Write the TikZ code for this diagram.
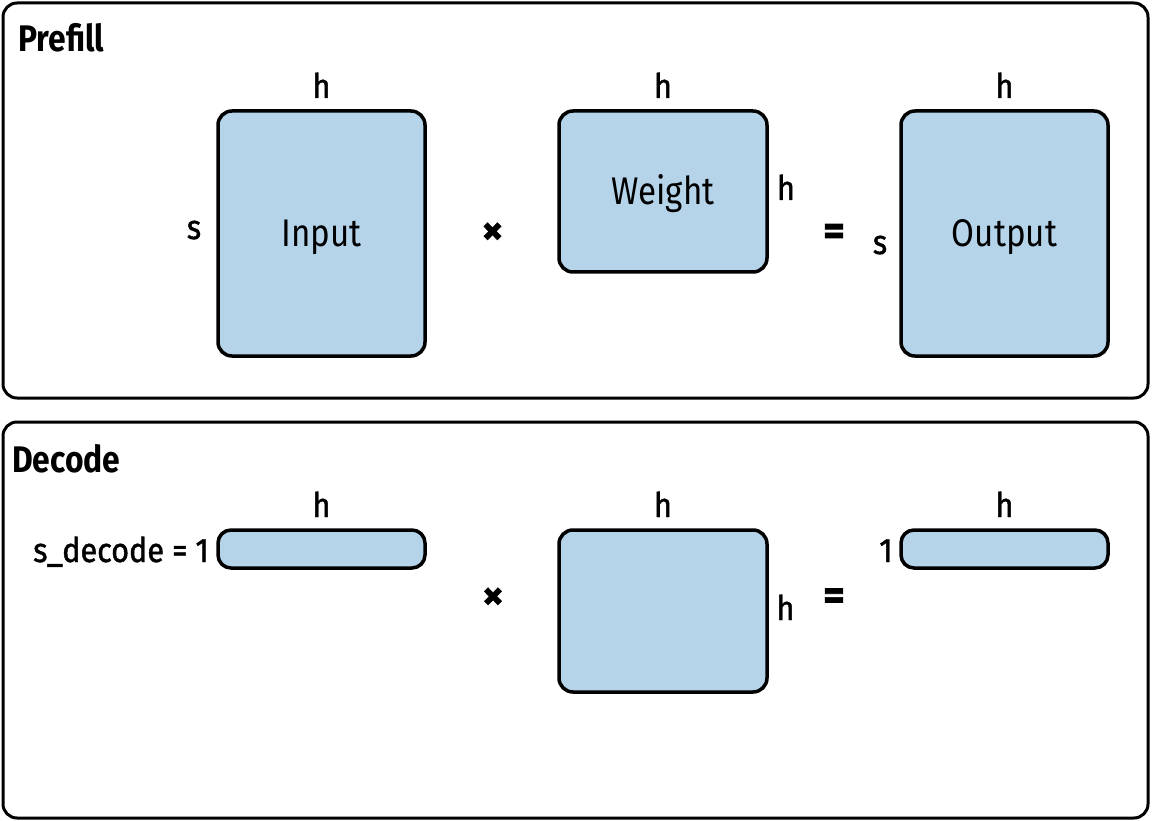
\documentclass[tikz,border=0pt]{standalone}
\usepackage{fontspec}
\setmainfont[FakeStretch=0.86]{Fira Sans}
\newfontfamily\labfont[FakeStretch=0.9,FakeBold=1.3]{Fira Sans}
\newfontfamily\opfont[FakeStretch=1.0,FakeBold=1.5]{Fira Sans}
\definecolor{matfill}{RGB}{181,212,234}
\begin{document}
\begin{tikzpicture}[x=1pt,y=-1pt,
  panel/.style={draw=black,line width=3pt,rounded corners=14pt,fill=white},
  mat/.style={draw=black,line width=3.5pt,rounded corners=14pt,fill=matfill},
  bar/.style={draw=black,line width=3.5pt,rounded corners=13pt,fill=matfill},
  lab/.style={inner sep=0pt,anchor=base,font=\labfont\fontsize{34}{40}\selectfont},
  op/.style={inner sep=0pt,font=\opfont\bfseries\fontsize{42}{46}\selectfont},
  big/.style={inner sep=0pt,anchor=base,font=\fontsize{38.5}{44}\selectfont},
  title/.style={inner sep=0pt,anchor=base west,font=\fontsize{37}{42}\selectfont\bfseries}]
\useasboundingbox (0,0) rectangle (1152,821);
% panels
\draw[panel] (3,3) rectangle (1148,398);
\draw[panel] (3,422) rectangle (1148,818);
\node[title] (tp) at (18,52) {Prefill};
\node[title] (td) at (12,472) {Decode};
% prefill
\draw[mat] (218,111) rectangle (425,356);
\node[big] (in) at (321.5,247) {Input};
\draw[mat] (559,111) rectangle (767,272);
\node[big] (w) at (663,205) {Weight};
\draw[mat] (901,111) rectangle (1108,356);
\node[big] (out) at (1004.5,247) {Output};
\node[lab] (h1) at (321.5,98) {h};
\node[lab] (h2) at (663,98) {h};
\node[lab] (h3) at (1004.5,98) {h};
\node[lab] (s1) at (194,239) {s};
\node[lab] (hw) at (786,200) {h};
\node[lab] (s2) at (880,254) {s};
\node[op] (x1) at (492.5,233.5) {×};
\node[op] (e1) at (834,234.5) {=};
% decode
\draw[bar] (218,530) rectangle (425,568);
\draw[mat] (559,530) rectangle (767,692);
\draw[bar] (901,530) rectangle (1108,568);
\node[lab] (dh1) at (321.5,517) {h};
\node[lab] (dh2) at (663,517) {h};
\node[lab] (dh3) at (1004.5,517) {h};
\node[lab,anchor=base east] (sd) at (209,562) {s\_decode = 1};
\node[lab] (dhw) at (785.5,620) {h};
\node[op] (x2) at (493,598.5) {×};
\node[op] (e2) at (834,599) {=};
\node[lab] (one) at (886,562) {1};
\end{tikzpicture}
\end{document}
